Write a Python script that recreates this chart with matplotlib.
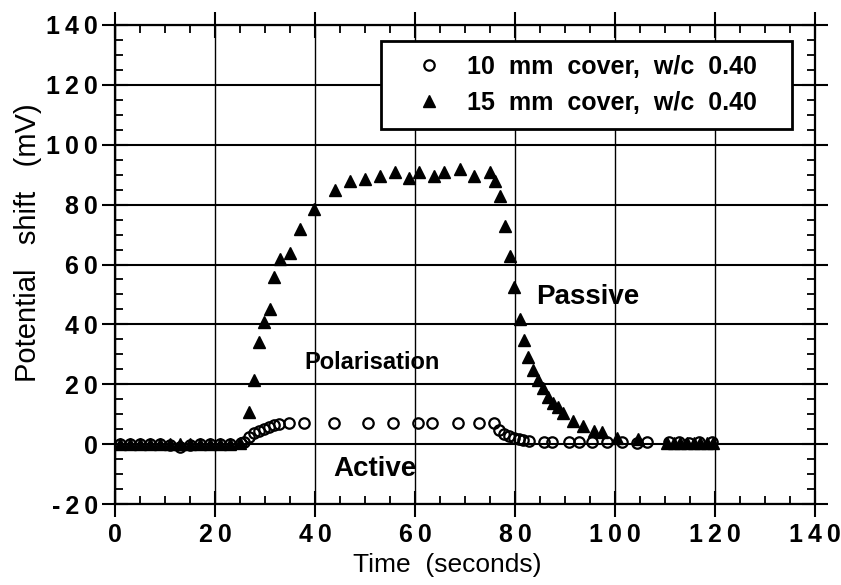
import matplotlib
matplotlib.use("Agg")
import matplotlib.pyplot as plt
from matplotlib.ticker import MultipleLocator, FixedLocator, FixedFormatter

plt.rcParams['font.family'] = ['Liberation Sans', 'DejaVu Sans']

# 10 mm cover, w/c 0.40 (open circles)
t_10mm = [1, 3, 5, 7, 9, 11, 13, 15, 17, 19, 21, 23, 25.2,
          25.7, 26.7, 27.7, 28.7, 29.7, 30.7, 31.7, 32.7, 34.7, 37.7,
          43.7, 50.5, 55.5, 60.5, 63.3, 68.5, 72.7, 75.7,
          76.7, 77.7, 78.7, 79.7, 80.7, 81.5, 82.7, 85.7, 87.3, 90.7,
          92.7, 95.3, 98.3, 101.3, 104.3, 106.3,
          110.7, 112.7, 114.7, 116.7, 119.3]
v_10mm = [0.2, 0.2, 0.1, 0.1, 0.1, -0.3, -0.8, -0.2, 0.1, 0.1, 0.2, 0.1, 0.3,
          0.8, 2.4, 3.6, 4.4, 5.2, 5.8, 6.3, 6.7, 6.9, 7.2,
          7.0, 7.0, 7.0, 7.2, 7.2, 7.0, 7.2, 7.2,
          4.7, 3.3, 2.7, 2.1, 1.6, 1.3, 1.1, 0.8, 0.7, 0.6,
          0.6, 0.6, 0.7, 0.6, 0.5, 0.7,
          0.6, 0.6, 0.5, 0.6, 0.6]

# 15 mm cover, w/c 0.40 (filled triangles)
t_15mm = [1, 3, 5, 7, 9, 11, 13, 15, 17, 19, 21, 23, 25,
          26.7, 27.7, 28.8, 29.7, 30.9, 31.7, 32.9, 34.9, 36.9, 39.8,
          44, 47, 49.9, 52.9, 55.9, 58.7, 60.7, 63.7, 65.7, 69, 71.7, 75,
          76, 77, 78, 78.9, 79.8, 80.9, 81.7, 82.5, 83.5, 84.5, 85.5, 86.5,
          87.5, 88.5, 89.5, 91.5, 93.5, 95.7, 97.4, 100.3, 104.5,
          110.3, 111.7, 113, 114.3, 115.7, 117, 118.3, 119.5]
v_15mm = [0, 0, 0, 0, 0, 0, 0, 0, 0, 0, 0, 0, 0.5,
          10.8, 21.3, 34.1, 40.8, 45.2, 55.8, 61.9, 63.8, 71.9, 78.6,
          84.9, 88, 88.6, 89.7, 90.8, 88.8, 90.8, 89.7, 90.8, 91.9, 89.7, 90.8,
          88, 83, 73, 63, 52.4, 41.9, 34.7, 29.1, 24.7, 21.3, 18.6, 15.8,
          13.6, 12.4, 10.4, 7.6, 6.1, 4.5, 3.9, 2.2, 1.6,
          0.4, 0.4, 0.4, 0.3, 0.4, 0.3, 0.3, 0.4]

x_ticks = [0, 20, 40, 60, 80, 100, 120, 140]
x_labels = ['0', '2 0', '4 0', '6 0', '8 0', '1 0 0', '1 2 0', '1 4 0']
y_ticks = [-20, 0, 20, 40, 60, 80, 100, 120, 140]
y_labels = ['- 2 0', '0', '2 0', '4 0', '6 0', '8 0', '1 0 0', '1 2 0', '1 4 0']
# spaced-out digits, as in the original figure
x_labels = [s.replace(' ', '\u2009') for s in x_labels]
y_labels = [s.replace(' ', '\u2009') for s in y_labels]

fig = plt.figure(figsize=(8.41, 5.85), dpi=100)
ax = fig.add_axes([115 / 841, 81 / 585, 700 / 841, 479 / 585])

ax.plot(t_15mm, v_15mm, linestyle='none', marker='^', ms=8, color='black',
        zorder=3, label='15  mm  cover,  w/c  0.40   ')
ax.plot(t_10mm, v_10mm, linestyle='none', marker='o', ms=7.5, mfc='none',
        mec='black', mew=1.6, zorder=4, label='10  mm  cover,  w/c  0.40   ')

ax.set_xlim(0, 140)
ax.set_ylim(-20, 140)
ax.xaxis.set_major_locator(FixedLocator(x_ticks))
ax.xaxis.set_major_formatter(FixedFormatter(x_labels))
ax.yaxis.set_major_locator(FixedLocator(y_ticks))
ax.yaxis.set_major_formatter(FixedFormatter(y_labels))
ax.xaxis.set_minor_locator(MultipleLocator(5))
ax.yaxis.set_minor_locator(MultipleLocator(5))

ax.tick_params(which='major', direction='inout', length=19, width=1.5,
               top=True, right=True, labelsize=18, pad=3, color='black')
ax.tick_params(which='minor', direction='in', length=6, width=1.3,
               top=True, right=True)
ax.tick_params(axis='x', which='major', pad=4)
for lab in ax.get_xticklabels() + ax.get_yticklabels():
    lab.set_fontweight('bold')

for s in ax.spines.values():
    s.set_linewidth(1.6)

ax.xaxis.grid(True, which='major', color='black', lw=1.0)
ax.yaxis.grid(True, which='major', color='black', lw=1.5)
ax.set_axisbelow(True)

# legend (circle first)
h, l = ax.get_legend_handles_labels()
leg = ax.legend(h[::-1], l[::-1], loc='upper right',
                bbox_to_anchor=(0.967, 0.9666), frameon=True, fancybox=False,
                framealpha=1, edgecolor='black', prop={'weight': 'bold', 'size': 18},
                handlelength=2.7, handletextpad=0.2, borderpad=0.55,
                labelspacing=0.5, borderaxespad=0)
leg.get_frame().set_linewidth(2.0)
leg.set_zorder(10)

ax.text(51.4, 27.3, 'Polarisation', fontsize=17, fontweight='bold',
        ha='center', va='center', zorder=5)
ax.text(94.6, 49, 'Passive', fontsize=20, fontweight='bold',
        ha='center', va='center', zorder=5)
ax.text(52, -8.3, 'Active', fontsize=20, fontweight='bold',
        ha='center', va='center', zorder=5)

fig.text(28 / 841, 1 - 243 / 585, 'Potential   shift   (mV)', fontsize=21,
         rotation=90, ha='center', va='center')
fig.text(447 / 841, 1 - 565 / 585, 'Time  (seconds)', fontsize=19,
         ha='center', va='center')

fig.savefig('out.png', dpi=100)
